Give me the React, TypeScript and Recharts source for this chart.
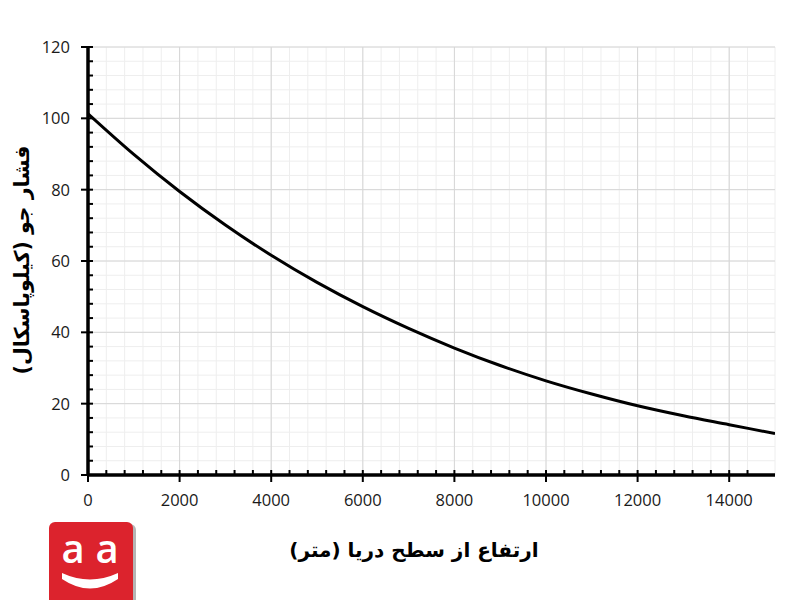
import React from 'react';
import { LineChart, Line, XAxis, YAxis, CartesianGrid, ReferenceLine } from 'recharts';

// Altitude above sea level (m)
const altitudes = [0, 1000, 2000, 3000, 4000, 5000, 6000, 7000, 8000, 9000, 10000, 11000, 12000, 13000, 14000, 15000];
// Atmospheric pressure (kPa)
const pressures = [101.3, 89.9, 79.5, 70.1, 61.6, 54.0, 47.2, 41.1, 35.6, 30.7, 26.4, 22.7, 19.4, 16.6, 14.1, 11.6];

const xMajorTicks = [0, 2000, 4000, 6000, 8000, 10000, 12000, 14000];
const yMajorTicks = [0, 20, 40, 60, 80, 100, 120];
const xMinorStep = 400;
const yMinorStep = 4;
const xMax = 15000;
const yMax = 120;

const xAllTicks = Array.from({ length: Math.floor(xMax / xMinorStep) }, (_, i) => i * xMinorStep);
const yAllTicks = Array.from({ length: yMax / yMinorStep + 1 }, (_, i) => i * yMinorStep);

const xTitle = 'ارتفاع از سطح دریا (متر)';
const yTitle = 'فشار جو (کیلوپاسکال)';

const data = altitudes.map((a, i) => ({ alt: a, p: pressures[i] }));

const TICK_FONT = "'Open Sans', 'DejaVu Sans', sans-serif";

const XTick = (props: any) => {
  const { x, y, payload } = props;
  const v = payload.value;
  const major = v % 2000 === 0;
  return (
    <g>
      <line x1={x} x2={x} y1={y - 5} y2={major ? y + 7 : y} stroke="#000" strokeWidth={2} />
      {major && (
        <text x={x} y={y + 31} textAnchor="middle" fontSize={16.5} fill="#1a1a1a" fontFamily={TICK_FONT}>
          {v}
        </text>
      )}
    </g>
  );
};

const YTick = (props: any) => {
  const { x, y, payload } = props;
  const v = payload.value;
  const major = v % 20 === 0;
  return (
    <g>
      <line x1={major ? x - 7 : x} x2={x + 5} y1={y} y2={y} stroke="#000" strokeWidth={2} />
      {major && (
        <text x={x - 18} y={y + 6} textAnchor="end" fontSize={16.5} fill="#1a1a1a" fontFamily={TICK_FONT}>
          {v}
        </text>
      )}
    </g>
  );
};

export default function App() {
  return (
    <div style={{ position: 'absolute', left: 0, top: 0, width: 800, height: 600, background: '#fff' }}>
      <LineChart width={800} height={600} data={data} margin={{ top: 47, right: 25, bottom: 0, left: 0 }}>
        <CartesianGrid stroke="#eeeeee" strokeWidth={1} />
        {xMajorTicks.map((t) => (
          <ReferenceLine key={'vx' + t} x={t} stroke="#d6d6d6" strokeWidth={1} />
        ))}
        {yMajorTicks.map((t) => (
          <ReferenceLine key={'hy' + t} y={t} stroke="#d6d6d6" strokeWidth={1} />
        ))}
        <XAxis
          dataKey="alt"
          type="number"
          domain={[0, xMax]}
          ticks={xAllTicks}
          interval={0}
          height={125}
          tickSize={0}
          tickMargin={0}
          tickLine={false}
          axisLine={{ stroke: '#000', strokeWidth: 3.5 }}
          tick={<XTick />}
          allowDataOverflow
        />
        <YAxis
          type="number"
          domain={[0, yMax]}
          ticks={yAllTicks}
          interval={0}
          width={88}
          tickSize={0}
          tickMargin={0}
          tickLine={false}
          axisLine={{ stroke: '#000', strokeWidth: 3.5 }}
          tick={<YTick />}
          allowDataOverflow
        />
        <Line
          type="monotone"
          dataKey="p"
          stroke="#000"
          strokeWidth={3}
          dot={false}
          activeDot={false}
          isAnimationActive={false}
        />
      </LineChart>
      <svg
        width={800}
        height={600}
        style={{ position: 'absolute', left: 0, top: 0, pointerEvents: 'none' }}
      >
        <text
          x={414}
          y={557}
          textAnchor="middle"
          direction="rtl"
          fontSize={20}
          fontWeight="bold"
          fill="#000"
          fontFamily="'DejaVu Sans', sans-serif"
        >
          {xTitle}
        </text>
        <text
          transform="translate(29,260) rotate(-90)"
          x={0}
          y={0}
          textAnchor="middle"
          direction="rtl"
          fontSize={20.5}
          fontWeight="bold"
          fill="#000"
          fontFamily="'DejaVu Sans', sans-serif"
        >
          {yTitle}
        </text>
        <g>
          <rect x={52} y={524} width={84} height={90} rx={6} fill="#b5b5b5" />
          <rect x={49} y={522} width={84} height={90} rx={6} fill="#dc232d" />
          <text x={73} y={563} textAnchor="middle" fontSize={40} fontWeight={600} fill="#fff" fontFamily="'Open Sans', sans-serif">a</text>
          <text x={107} y={563} textAnchor="middle" fontSize={40} fontWeight={600} fill="#fff" fontFamily="'Open Sans', sans-serif">a</text>
          <path d="M62,573 Q90,586 118,573 L118,579 Q90,598 62,579 Z" fill="#fff" />
        </g>
      </svg>
    </div>
  );
}
